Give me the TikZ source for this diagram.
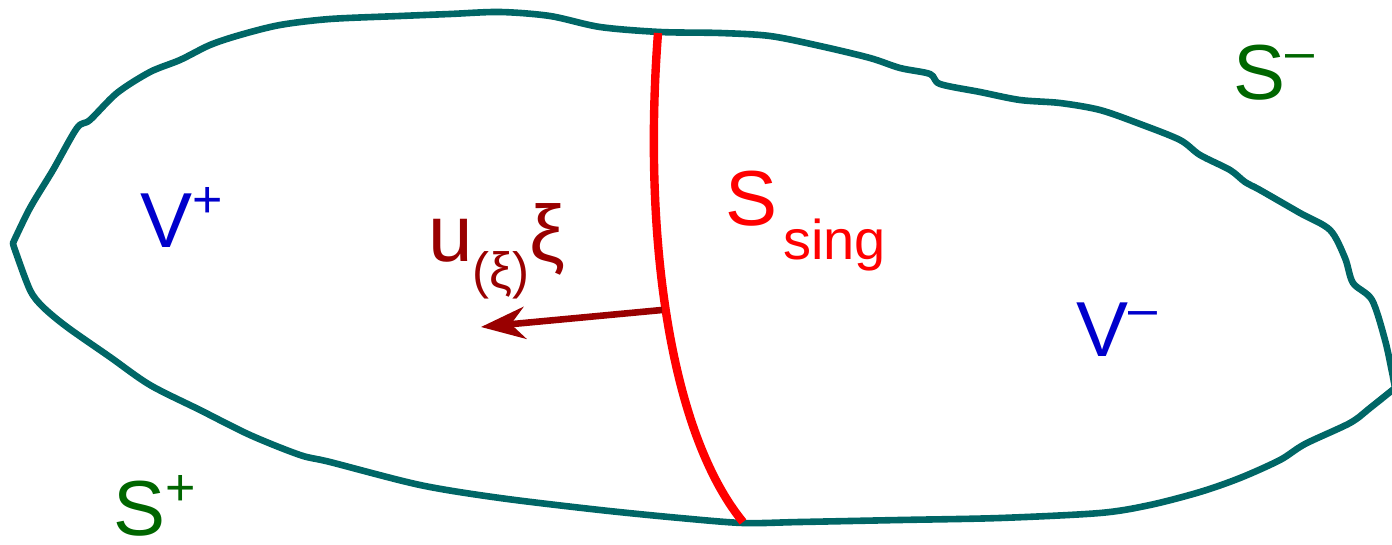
\documentclass[tikz,border=0pt]{standalone}
\usepackage{fontspec}
\setmainfont{Liberation Sans}
\usetikzlibrary{arrows.meta}
\definecolor{tealc}{RGB}{0,102,102}
\definecolor{greenc}{RGB}{0,102,0}
\definecolor{bluec}{RGB}{0,0,204}
\definecolor{darkredc}{RGB}{153,0,0}
\definecolor{redc}{RGB}{255,0,0}
\newcommand{\mainsz}{\fontsize{39}{40}\selectfont}
\newcommand{\supsz}{\fontsize{26}{27}\selectfont}
\tikzset{
  outline/.style={draw=tealc, line width=3.3pt, line join=round, line cap=round},
  singline/.style={draw=redc, line width=4.2pt},
  normalarrow/.style={draw=darkredc, line width=3.3pt, -{Stealth[length=22pt, width=16pt, inset=7pt]}},
  lbl/.style={anchor=base west, inner sep=0pt, outer sep=0pt},
}
\begin{document}
\begin{tikzpicture}[x=0.5pt,y=-0.5pt]
\useasboundingbox (0,0) rectangle (1392,545);
% outline
\draw[outline] plot[smooth, tension=0.5] coordinates {
 (13,243) (30,208) (53,170) (77,128) (90,120) (117,93) (150,72) (180,60) (210,45) (240,35)
 (280,25) (330,19) (400,16) (450,14) (500,12) (550,16) (600,27) (660,32) (720,33) (770,36)
 (820,46) (870,58) (900,68) (930,74) (940,84) (980,92) (1020,100) (1060,103) (1100,110)
 (1140,124) (1180,140) (1200,155) (1230,170) (1245,182) (1260,190) (1300,213) (1330,230)
 (1345,258) (1353,283) (1372,300) (1385,340) (1392,372) (1395,388)}
 plot[smooth, tension=0.5] coordinates {
 (1395,388) (1370,408) (1350,423) (1305,444) (1280,460) (1240,478) (1200,492) (1150,505)
 (1100,513) (1000,518) (900,520) (800,522) (743,523) (680,518) (600,510) (500,498) (420,485)
 (330,462) (300,455) (250,435) (200,410) (150,385) (110,357) (67,327) (43,307) (30,290) (15,250) (13,243)};
% singular surface
\coordinate (stop) at (658,33);
\coordinate (sbot) at (743,522);
\coordinate (afoot) at (662,310);
\coordinate (atip) at (481,327);
\draw[singline] (stop) .. controls (643,230) and (668,430) .. (sbot);
\draw[normalarrow] (afoot) -- (atip);
% labels
\node[lbl, text=bluec] (vplus) at (140,248) {\mainsz V\raisebox{15pt}{\supsz +}};
\node[lbl, text=bluec] (vminus) at (1076,357) {\mainsz V\raisebox{15pt}{\supsz –}};
\node[lbl, text=greenc] (splus) at (113,535) {\mainsz S\raisebox{15pt}{\supsz +}};
\node[lbl, text=greenc] (sminus) at (1233,100) {\mainsz S\raisebox{15pt}{\supsz –}};
\node[lbl, text=redc] (ssing) at (725,226) {\mainsz S\hspace{3pt}\raisebox{-17pt}{\fontsize{28}{29}\selectfont sing}};
\node[lbl, text=darkredc] (ulabel) at (428,262) {\fontsize{40}{41}\selectfont u\raisebox{-13.5pt}{\fontsize{25.5}{26}\selectfont (ξ)}ξ};
\end{tikzpicture}
\end{document}
